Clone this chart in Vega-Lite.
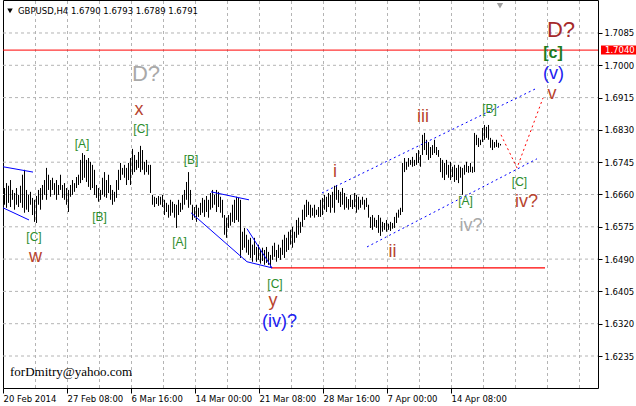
{
"$schema":"https://vega.github.io/schema/vega-lite/v6.json",
"width":595,"height":388,
"autosize":{"type":"none"},
"padding":{"left":3,"right":38,"top":0,"bottom":18},
"background":"white",
"config":{"view":{"stroke":"#000","strokeWidth":1},"font":"DejaVu Sans"},
"datasets":{
"bars":[
{"i":0,"h":1.6677,"l":1.6633},{"i":1,"h":1.6690,"l":1.6625},{"i":2,"h":1.6683,"l":1.6638},{"i":3,"h":1.6698,"l":1.6627},{"i":4,"h":1.6672,"l":1.6646},{"i":5,"h":1.6664,"l":1.6620},{"i":6,"h":1.6677,"l":1.6633},{"i":7,"h":1.6659,"l":1.6627},{"i":8,"h":1.6683,"l":1.6638},{"i":9,"h":1.6712,"l":1.6625},
{"i":10,"h":1.6725,"l":1.6612},{"i":11,"h":1.6672,"l":1.6620},{"i":12,"h":1.6659,"l":1.6614},{"i":13,"h":1.6667,"l":1.6633},{"i":14,"h":1.6651,"l":1.6606},{"i":15,"h":1.6646,"l":1.6588},{"i":16,"h":1.6656,"l":1.6585},{"i":17,"h":1.6672,"l":1.6633},{"i":18,"h":1.6677,"l":1.6620},{"i":19,"h":1.6685,"l":1.6646},
{"i":20,"h":1.6698,"l":1.6659},{"i":21,"h":1.6730,"l":1.6646},{"i":22,"h":1.6712,"l":1.6672},{"i":23,"h":1.6698,"l":1.6654},{"i":24,"h":1.6704,"l":1.6672},{"i":25,"h":1.6690,"l":1.6659},{"i":26,"h":1.6698,"l":1.6646},{"i":27,"h":1.6685,"l":1.6659},{"i":28,"h":1.6712,"l":1.6672},{"i":29,"h":1.6685,"l":1.6651},
{"i":30,"h":1.6690,"l":1.6646},{"i":31,"h":1.6677,"l":1.6633},{"i":32,"h":1.6672,"l":1.6614},{"i":33,"h":1.6685,"l":1.6654},{"i":34,"h":1.6698,"l":1.6659},{"i":35,"h":1.6690,"l":1.6667},{"i":36,"h":1.6706,"l":1.6677},{"i":37,"h":1.6712,"l":1.6685},{"i":38,"h":1.6751,"l":1.6690},{"i":39,"h":1.6769,"l":1.6698},
{"i":40,"h":1.6764,"l":1.6704},{"i":41,"h":1.6751,"l":1.6693},{"i":42,"h":1.6756,"l":1.6680},{"i":43,"h":1.6746,"l":1.6672},{"i":44,"h":1.6738,"l":1.6677},{"i":45,"h":1.6725,"l":1.6659},{"i":46,"h":1.6685,"l":1.6651},{"i":47,"h":1.6677,"l":1.6641},{"i":48,"h":1.6672,"l":1.6646},{"i":49,"h":1.6704,"l":1.6659},
{"i":50,"h":1.6719,"l":1.6654},{"i":51,"h":1.6698,"l":1.6651},{"i":52,"h":1.6712,"l":1.6664},{"i":53,"h":1.6685,"l":1.6646},{"i":54,"h":1.6672,"l":1.6633},{"i":55,"h":1.6667,"l":1.6641},{"i":56,"h":1.6698,"l":1.6651},{"i":57,"h":1.6725,"l":1.6672},{"i":58,"h":1.6743,"l":1.6698},{"i":59,"h":1.6730,"l":1.6712},
{"i":60,"h":1.6738,"l":1.6704},{"i":61,"h":1.6730,"l":1.6685},{"i":62,"h":1.6743,"l":1.6698},{"i":63,"h":1.6756,"l":1.6685},{"i":64,"h":1.6780,"l":1.6712},{"i":65,"h":1.6764,"l":1.6719},{"i":66,"h":1.6751,"l":1.6725},{"i":67,"h":1.6772,"l":1.6730},{"i":68,"h":1.6788,"l":1.6719},{"i":69,"h":1.6777,"l":1.6725},
{"i":70,"h":1.6746,"l":1.6712},{"i":71,"h":1.6751,"l":1.6719},{"i":72,"h":1.6738,"l":1.6712},{"i":73,"h":1.6738,"l":1.6664},{"i":74,"h":1.6659,"l":1.6633},{"i":75,"h":1.6654,"l":1.6627},{"i":76,"h":1.6651,"l":1.6635},{"i":77,"h":1.6656,"l":1.6630},{"i":78,"h":1.6654,"l":1.6633},{"i":79,"h":1.6659,"l":1.6627},
{"i":80,"h":1.6646,"l":1.6606},{"i":81,"h":1.6638,"l":1.6614},{"i":82,"h":1.6633,"l":1.6599},{"i":83,"h":1.6646,"l":1.6604},{"i":84,"h":1.6641,"l":1.6612},{"i":85,"h":1.6635,"l":1.6599},{"i":86,"h":1.6633,"l":1.6572},{"i":87,"h":1.6646,"l":1.6606},{"i":88,"h":1.6638,"l":1.6614},{"i":89,"h":1.6659,"l":1.6620},
{"i":90,"h":1.6672,"l":1.6633},{"i":91,"h":1.6693,"l":1.6646},{"i":92,"h":1.6719,"l":1.6625},{"i":93,"h":1.6672,"l":1.6633},{"i":94,"h":1.6633,"l":1.6593},{"i":95,"h":1.6627,"l":1.6599},{"i":96,"h":1.6633,"l":1.6588},{"i":97,"h":1.6625,"l":1.6601},{"i":98,"h":1.6638,"l":1.6606},{"i":99,"h":1.6651,"l":1.6612},
{"i":100,"h":1.6646,"l":1.6601},{"i":101,"h":1.6656,"l":1.6614},{"i":102,"h":1.6646,"l":1.6599},{"i":103,"h":1.6664,"l":1.6620},{"i":104,"h":1.6672,"l":1.6625},{"i":105,"h":1.6659,"l":1.6633},{"i":106,"h":1.6672,"l":1.6614},{"i":107,"h":1.6667,"l":1.6627},{"i":108,"h":1.6654,"l":1.6612},{"i":109,"h":1.6646,"l":1.6599},
{"i":110,"h":1.6606,"l":1.6554},{"i":111,"h":1.6599,"l":1.6546},{"i":112,"h":1.6606,"l":1.6572},{"i":113,"h":1.6612,"l":1.6578},{"i":114,"h":1.6633,"l":1.6588},{"i":115,"h":1.6646,"l":1.6585},{"i":116,"h":1.6654,"l":1.6593},{"i":117,"h":1.6651,"l":1.6588},{"i":118,"h":1.6646,"l":1.6493},{"i":119,"h":1.6562,"l":1.6514},
{"i":120,"h":1.6572,"l":1.6520},{"i":121,"h":1.6554,"l":1.6507},{"i":122,"h":1.6541,"l":1.6501},{"i":123,"h":1.6546,"l":1.6493},{"i":124,"h":1.6528,"l":1.6483},{"i":125,"h":1.6546,"l":1.6501},{"i":126,"h":1.6522,"l":1.6483},{"i":127,"h":1.6528,"l":1.6488},{"i":128,"h":1.6514,"l":1.6478},{"i":129,"h":1.6520,"l":1.6485},
{"i":130,"h":1.6514,"l":1.6475},{"i":131,"h":1.6522,"l":1.6480},{"i":132,"h":1.6509,"l":1.6475},{"i":133,"h":1.6501,"l":1.6470},{"i":134,"h":1.6525,"l":1.6488},{"i":135,"h":1.6533,"l":1.6496},{"i":136,"h":1.6514,"l":1.6483},{"i":137,"h":1.6528,"l":1.6493},{"i":138,"h":1.6520,"l":1.6488},{"i":139,"h":1.6541,"l":1.6501},
{"i":140,"h":1.6554,"l":1.6493},{"i":141,"h":1.6546,"l":1.6509},{"i":142,"h":1.6562,"l":1.6514},{"i":143,"h":1.6567,"l":1.6528},{"i":144,"h":1.6575,"l":1.6520},{"i":145,"h":1.6562,"l":1.6533},{"i":146,"h":1.6593,"l":1.6546},{"i":147,"h":1.6599,"l":1.6554},{"i":148,"h":1.6588,"l":1.6559},{"i":149,"h":1.6620,"l":1.6575},
{"i":150,"h":1.6633,"l":1.6593},{"i":151,"h":1.6646,"l":1.6601},{"i":152,"h":1.6641,"l":1.6606},{"i":153,"h":1.6633,"l":1.6599},{"i":154,"h":1.6625,"l":1.6604},{"i":155,"h":1.6633,"l":1.6599},{"i":156,"h":1.6620,"l":1.6606},{"i":157,"h":1.6627,"l":1.6601},{"i":158,"h":1.6646,"l":1.6601},{"i":159,"h":1.6651,"l":1.6606},
{"i":160,"h":1.6659,"l":1.6620},{"i":161,"h":1.6654,"l":1.6614},{"i":162,"h":1.6664,"l":1.6627},{"i":163,"h":1.6659,"l":1.6612},{"i":164,"h":1.6667,"l":1.6625},{"i":165,"h":1.6683,"l":1.6612},{"i":166,"h":1.6685,"l":1.6646},{"i":167,"h":1.6672,"l":1.6638},{"i":168,"h":1.6667,"l":1.6627},{"i":169,"h":1.6677,"l":1.6633},
{"i":170,"h":1.6664,"l":1.6620},{"i":171,"h":1.6654,"l":1.6625},{"i":172,"h":1.6648,"l":1.6620},{"i":173,"h":1.6659,"l":1.6627},{"i":174,"h":1.6646,"l":1.6622},{"i":175,"h":1.6664,"l":1.6627},{"i":176,"h":1.6659,"l":1.6612},{"i":177,"h":1.6654,"l":1.6620},{"i":178,"h":1.6646,"l":1.6625},{"i":179,"h":1.6654,"l":1.6633},
{"i":180,"h":1.6646,"l":1.6620},{"i":181,"h":1.6651,"l":1.6627},{"i":182,"h":1.6633,"l":1.6599},{"i":183,"h":1.6601,"l":1.6572},{"i":184,"h":1.6606,"l":1.6567},{"i":185,"h":1.6599,"l":1.6575},{"i":186,"h":1.6593,"l":1.6572},{"i":187,"h":1.6606,"l":1.6559},{"i":188,"h":1.6599,"l":1.6551},{"i":189,"h":1.6588,"l":1.6562},
{"i":190,"h":1.6585,"l":1.6567},{"i":191,"h":1.6593,"l":1.6562},{"i":192,"h":1.6583,"l":1.6567},{"i":193,"h":1.6588,"l":1.6564},{"i":194,"h":1.6585,"l":1.6570},{"i":195,"h":1.6601,"l":1.6572},{"i":196,"h":1.6612,"l":1.6585},{"i":197,"h":1.6620,"l":1.6599},{"i":198,"h":1.6625,"l":1.6606},{"i":199,"h":1.6743,"l":1.6614},
{"i":200,"h":1.6756,"l":1.6719},{"i":201,"h":1.6746,"l":1.6725},{"i":202,"h":1.6756,"l":1.6733},{"i":203,"h":1.6751,"l":1.6738},{"i":204,"h":1.6759,"l":1.6733},{"i":205,"h":1.6751,"l":1.6735},{"i":206,"h":1.6769,"l":1.6738},{"i":207,"h":1.6777,"l":1.6743},{"i":208,"h":1.6764,"l":1.6733},{"i":209,"h":1.6817,"l":1.6764},
{"i":210,"h":1.6822,"l":1.6777},{"i":211,"h":1.6804,"l":1.6764},{"i":212,"h":1.6798,"l":1.6751},{"i":213,"h":1.6785,"l":1.6756},{"i":214,"h":1.6790,"l":1.6764},{"i":215,"h":1.6804,"l":1.6769},{"i":216,"h":1.6785,"l":1.6764},{"i":217,"h":1.6777,"l":1.6759},{"i":218,"h":1.6756,"l":1.6719},{"i":219,"h":1.6751,"l":1.6704},
{"i":220,"h":1.6743,"l":1.6698},{"i":221,"h":1.6751,"l":1.6712},{"i":222,"h":1.6738,"l":1.6704},{"i":223,"h":1.6746,"l":1.6698},{"i":224,"h":1.6733,"l":1.6706},{"i":225,"h":1.6738,"l":1.6693},{"i":226,"h":1.6730,"l":1.6698},{"i":227,"h":1.6738,"l":1.6690},{"i":228,"h":1.6733,"l":1.6704},{"i":229,"h":1.6730,"l":1.6659},
{"i":230,"h":1.6738,"l":1.6712},{"i":231,"h":1.6746,"l":1.6719},{"i":232,"h":1.6735,"l":1.6717},{"i":233,"h":1.6743,"l":1.6719},{"i":234,"h":1.6733,"l":1.6717},{"i":235,"h":1.6822,"l":1.6719},{"i":236,"h":1.6817,"l":1.6790},{"i":237,"h":1.6809,"l":1.6785},{"i":238,"h":1.6804,"l":1.6790},{"i":239,"h":1.6835,"l":1.6798},
{"i":240,"h":1.6843,"l":1.6804},{"i":241,"h":1.6838,"l":1.6809},{"i":242,"h":1.6843,"l":1.6804},{"i":243,"h":1.6809,"l":1.6783},{"i":244,"h":1.6804,"l":1.6777},{"i":245,"h":1.6798,"l":1.6783},{"i":246,"h":1.6804,"l":1.6785},{"i":247,"h":1.6796,"l":1.6783},{"i":248,"h":1.6793,"l":1.6789}
],
"labels":[
{"t":"D?","i":71,"p":1.6978,"k":"grayD"},
{"t":"x","i":67.5,"p":1.6869,"k":"red"},
{"t":"[C]","i":68.5,"p":1.6833,"k":"green"},
{"t":"[A]","i":39,"p":1.6793,"k":"green"},
{"t":"[B]","i":93.5,"p":1.6750,"k":"green"},
{"t":"[B]","i":47.75,"p":1.6602,"k":"green"},
{"t":"[C]","i":15,"p":1.6547,"k":"green"},
{"t":"w","i":15.75,"p":1.6483,"k":"red"},
{"t":"[A]","i":87.75,"p":1.6535,"k":"green"},
{"t":"[C]","i":135.5,"p":1.6425,"k":"green"},
{"t":"y","i":134.5,"p":1.6367,"k":"red"},
{"t":"(iv)?","i":137.75,"p":1.6325,"k":"blue"},
{"t":"i","i":165.5,"p":1.6706,"k":"red"},
{"t":"ii","i":194.25,"p":1.6496,"k":"red"},
{"t":"iii","i":209.5,"p":1.6851,"k":"red"},
{"t":"[A]","i":230.75,"p":1.6643,"k":"green"},
{"t":"iv?","i":233.5,"p":1.6564,"k":"grayS"},
{"t":"[B]","i":242.75,"p":1.6885,"k":"green"},
{"t":"[C]","i":257.75,"p":1.6693,"k":"green"},
{"t":"iv?","i":261.25,"p":1.6627,"k":"red"},
{"t":"v","i":274,"p":1.6911,"k":"red"},
{"t":"(v)","i":274.75,"p":1.6977,"k":"blue"},
{"t":"[c]","i":274.5,"p":1.7032,"k":"greenBold"},
{"t":"D?","i":278.5,"p":1.7093,"k":"redD"}
],
"bl":[
{"g":1,"i":-0.5,"p":1.6733},{"g":1,"i":14.5,"p":1.6719},
{"g":2,"i":-0.5,"p":1.6625},{"g":2,"i":12.5,"p":1.6593},
{"g":3,"i":103.5,"p":1.6667},{"g":3,"i":122.5,"p":1.6646},
{"g":4,"i":93.5,"p":1.6612},{"g":4,"i":121.5,"p":1.6483},{"g":4,"i":134,"p":1.6467},
{"g":5,"i":121.5,"p":1.6570},{"g":5,"i":134,"p":1.6467}
],
"bd":[
{"g":1,"i":159,"p":1.6664},{"g":1,"i":266.5,"p":1.6940},
{"g":2,"i":181.5,"p":1.6522},{"g":2,"i":266.5,"p":1.6754}
],
"rd":[{"i":248.5,"p":1.6817},{"i":256.5,"p":1.6730},{"i":269.5,"p":1.6914}],
"rs":[{"i":133.5,"p":1.6467},{"i":270.5,"p":1.6467}],
"grid":[
{"g":"v1","i":15.75,"p":1.615079},{"g":"v1","i":15.75,"p":1.717184},
{"g":"v2","i":31.75,"p":1.615079},{"g":"v2","i":31.75,"p":1.717184},
{"g":"v3","i":47.75,"p":1.615079},{"g":"v3","i":47.75,"p":1.717184},
{"g":"v4","i":63.75,"p":1.615079},{"g":"v4","i":63.75,"p":1.717184},
{"g":"v5","i":79.75,"p":1.615079},{"g":"v5","i":79.75,"p":1.717184},
{"g":"v6","i":95.75,"p":1.615079},{"g":"v6","i":95.75,"p":1.717184},
{"g":"v7","i":111.75,"p":1.615079},{"g":"v7","i":111.75,"p":1.717184},
{"g":"v8","i":127.75,"p":1.615079},{"g":"v8","i":127.75,"p":1.717184},
{"g":"v9","i":143.75,"p":1.615079},{"g":"v9","i":143.75,"p":1.717184},
{"g":"v10","i":159.75,"p":1.615079},{"g":"v10","i":159.75,"p":1.717184},
{"g":"v11","i":175.75,"p":1.615079},{"g":"v11","i":175.75,"p":1.717184},
{"g":"v12","i":191.75,"p":1.615079},{"g":"v12","i":191.75,"p":1.717184},
{"g":"v13","i":207.75,"p":1.615079},{"g":"v13","i":207.75,"p":1.717184},
{"g":"v14","i":223.75,"p":1.615079},{"g":"v14","i":223.75,"p":1.717184},
{"g":"v15","i":239.75,"p":1.615079},{"g":"v15","i":239.75,"p":1.717184},
{"g":"v16","i":255.75,"p":1.615079},{"g":"v16","i":255.75,"p":1.717184},
{"g":"v17","i":271.75,"p":1.615079},{"g":"v17","i":271.75,"p":1.717184},
{"g":"v18","i":287.75,"p":1.615079},{"g":"v18","i":287.75,"p":1.717184},
{"g":"h1","i":-0.5,"p":1.6235},{"g":"h1","i":297,"p":1.6235},
{"g":"h2","i":-0.5,"p":1.632},{"g":"h2","i":297,"p":1.632},
{"g":"h3","i":-0.5,"p":1.6405},{"g":"h3","i":297,"p":1.6405},
{"g":"h4","i":-0.5,"p":1.649},{"g":"h4","i":297,"p":1.649},
{"g":"h5","i":-0.5,"p":1.6575},{"g":"h5","i":297,"p":1.6575},
{"g":"h6","i":-0.5,"p":1.666},{"g":"h6","i":297,"p":1.666},
{"g":"h7","i":-0.5,"p":1.6745},{"g":"h7","i":297,"p":1.6745},
{"g":"h8","i":-0.5,"p":1.683},{"g":"h8","i":297,"p":1.683},
{"g":"h9","i":-0.5,"p":1.6915},{"g":"h9","i":297,"p":1.6915},
{"g":"h10","i":-0.5,"p":1.7},{"g":"h10","i":297,"p":1.7},
{"g":"h11","i":-0.5,"p":1.7085},{"g":"h11","i":297,"p":1.7085}
],
"ax":[{"i":-0.5,"p":1.6235}]
},
"resolve":{"axis":{"x":"independent","y":"independent"}},
"layer":[
{"data":{"name":"ax"},
"mark":{"type":"point","opacity":0},
"encoding":{
"x":{"field":"i","type":"quantitative","scale":{"domain":[-0.5,297],"nice":false,"zero":false},
"axis":{"orient":"bottom","title":null,"domain":false,"grid":false,
"values":[-0.5,31.5,63.5,95.5,127.5,159.5,191.5,223.5],
"labelExpr":"['20 Feb 2014','27 Feb 08:00','6 Mar 16:00','14 Mar 00:00','21 Mar 08:00','28 Mar 16:00','7 Apr 00:00','14 Apr 08:00'][round((datum.value+0.5)/32)]",
"tickColor":"#000","tickSize":5,
"labelAlign":"left","labelBaseline":"top","labelPadding":1,"labelFont":"DejaVu Sans","labelFontSize":8.5,"labelColor":"#000",
"labelOverlap":false}},
"y":{"field":"p","type":"quantitative","scale":{"domain":[1.615079,1.717184],"nice":false,"zero":false},
"axis":{"orient":"right","title":null,"domain":false,"grid":false,
"values":[1.6235,1.632,1.6405,1.649,1.6575,1.666,1.6745,1.683,1.6915,1.7,1.7085],"format":".4f",
"tickColor":"#000","tickSize":4,"labelPadding":2,"labelFont":"DejaVu Sans","labelFontSize":8.5,"labelColor":"#000",
"labelOverlap":false}}
}},
{"data":{"name":"grid"},"mark":{"type":"line","color":"#b4b4b4","strokeWidth":1,"strokeDash":[3,3]},
"encoding":{"x":{"field":"i","type":"quantitative","axis":null,"scale":{"domain":[-0.5,297],"nice":false,"zero":false}},"y":{"field":"p","type":"quantitative","axis":null,"scale":{"domain":[1.615079,1.717184],"nice":false,"zero":false}},"detail":{"field":"g"}}},
{"data":{"name":"bars"},
"mark":{"type":"rule","color":"#000","strokeWidth":1,"xOffset":0.5},
"encoding":{
"x":{"field":"i","type":"quantitative","axis":null,"scale":{"domain":[-0.5,297],"nice":false,"zero":false}},
"y":{"field":"l","type":"quantitative","axis":null,"scale":{"domain":[1.615079,1.717184],"nice":false,"zero":false}},
"y2":{"field":"h"}
}},
{"data":{"values":[{"p":1.704}]},"mark":{"type":"rule","color":"#ff0000","strokeWidth":1},
"encoding":{"y":{"field":"p","type":"quantitative","axis":null,"scale":{"domain":[1.615079,1.717184],"nice":false,"zero":false}}}},
{"data":{"name":"rs"},"mark":{"type":"line","color":"#ff0000","strokeWidth":1.3},
"encoding":{"x":{"field":"i","type":"quantitative","axis":null,"scale":{"domain":[-0.5,297],"nice":false,"zero":false}},"y":{"field":"p","type":"quantitative","axis":null,"scale":{"domain":[1.615079,1.717184],"nice":false,"zero":false}}}},
{"data":{"name":"bl"},"mark":{"type":"line","color":"#0000ff","strokeWidth":1},
"encoding":{"x":{"field":"i","type":"quantitative","axis":null,"scale":{"domain":[-0.5,297],"nice":false,"zero":false}},"y":{"field":"p","type":"quantitative","axis":null,"scale":{"domain":[1.615079,1.717184],"nice":false,"zero":false}},"detail":{"field":"g"}}},
{"data":{"name":"bd"},"mark":{"type":"line","color":"#0000ff","strokeWidth":1,"strokeDash":[2,3]},
"encoding":{"x":{"field":"i","type":"quantitative","axis":null,"scale":{"domain":[-0.5,297],"nice":false,"zero":false}},"y":{"field":"p","type":"quantitative","axis":null,"scale":{"domain":[1.615079,1.717184],"nice":false,"zero":false}},"detail":{"field":"g"}}},
{"data":{"name":"rd"},"mark":{"type":"line","color":"#ff0000","strokeWidth":1,"strokeDash":[2,3]},
"encoding":{"x":{"field":"i","type":"quantitative","axis":null,"scale":{"domain":[-0.5,297],"nice":false,"zero":false}},"y":{"field":"p","type":"quantitative","axis":null,"scale":{"domain":[1.615079,1.717184],"nice":false,"zero":false}}}},
{"data":{"name":"labels"},"transform":[{"filter":"datum.k=='green'"}],"mark":{"type":"text","font":"Liberation Sans","fontSize":12,"color":"#2b8c2b","align":"center","baseline":"middle"},
"encoding":{"x":{"field":"i","type":"quantitative","axis":null,"scale":{"domain":[-0.5,297],"nice":false,"zero":false}},"y":{"field":"p","type":"quantitative","axis":null,"scale":{"domain":[1.615079,1.717184],"nice":false,"zero":false}},"text":{"field":"t"}}},
{"data":{"name":"labels"},"transform":[{"filter":"datum.k=='greenBold'"}],"mark":{"type":"text","font":"Liberation Sans","fontSize":16,"fontWeight":"bold","color":"#1e7b1e","align":"center","baseline":"middle"},
"encoding":{"x":{"field":"i","type":"quantitative","axis":null,"scale":{"domain":[-0.5,297],"nice":false,"zero":false}},"y":{"field":"p","type":"quantitative","axis":null,"scale":{"domain":[1.615079,1.717184],"nice":false,"zero":false}},"text":{"field":"t"}}},
{"data":{"name":"labels"},"transform":[{"filter":"datum.k=='red'"}],"mark":{"type":"text","font":"Liberation Sans","fontSize":18,"color":"#b8432e","align":"center","baseline":"alphabetic"},
"encoding":{"x":{"field":"i","type":"quantitative","axis":null,"scale":{"domain":[-0.5,297],"nice":false,"zero":false}},"y":{"field":"p","type":"quantitative","axis":null,"scale":{"domain":[1.615079,1.717184],"nice":false,"zero":false}},"text":{"field":"t"}}},
{"data":{"name":"labels"},"transform":[{"filter":"datum.k=='redD'"}],"mark":{"type":"text","font":"Liberation Sans","fontSize":22,"color":"#a52a2a","align":"center","baseline":"middle"},
"encoding":{"x":{"field":"i","type":"quantitative","axis":null,"scale":{"domain":[-0.5,297],"nice":false,"zero":false}},"y":{"field":"p","type":"quantitative","axis":null,"scale":{"domain":[1.615079,1.717184],"nice":false,"zero":false}},"text":{"field":"t"}}},
{"data":{"name":"labels"},"transform":[{"filter":"datum.k=='grayD'"}],"mark":{"type":"text","font":"Liberation Sans","fontSize":22,"color":"#a9a9a9","align":"center","baseline":"middle"},
"encoding":{"x":{"field":"i","type":"quantitative","axis":null,"scale":{"domain":[-0.5,297],"nice":false,"zero":false}},"y":{"field":"p","type":"quantitative","axis":null,"scale":{"domain":[1.615079,1.717184],"nice":false,"zero":false}},"text":{"field":"t"}}},
{"data":{"name":"labels"},"transform":[{"filter":"datum.k=='grayS'"}],"mark":{"type":"text","font":"Liberation Sans","fontSize":18,"color":"#a9a9a9","align":"center","baseline":"alphabetic"},
"encoding":{"x":{"field":"i","type":"quantitative","axis":null,"scale":{"domain":[-0.5,297],"nice":false,"zero":false}},"y":{"field":"p","type":"quantitative","axis":null,"scale":{"domain":[1.615079,1.717184],"nice":false,"zero":false}},"text":{"field":"t"}}},
{"data":{"name":"labels"},"transform":[{"filter":"datum.k=='blue'"}],"mark":{"type":"text","font":"Liberation Sans","fontSize":18,"color":"#2020f0","align":"center","baseline":"middle"},
"encoding":{"x":{"field":"i","type":"quantitative","axis":null,"scale":{"domain":[-0.5,297],"nice":false,"zero":false}},"y":{"field":"p","type":"quantitative","axis":null,"scale":{"domain":[1.615079,1.717184],"nice":false,"zero":false}},"text":{"field":"t"}}},
{"data":{"values":[{"i":7,"p":1.7135,"t":"GBPUSD,H4  1.6790 1.6793 1.6789 1.6791"}]},"mark":{"type":"text","font":"DejaVu Sans","fontSize":8.5,"color":"#000","align":"left","baseline":"alphabetic"},
"encoding":{"x":{"field":"i","type":"quantitative","axis":null,"scale":{"domain":[-0.5,297],"nice":false,"zero":false}},"y":{"field":"p","type":"quantitative","axis":null,"scale":{"domain":[1.615079,1.717184],"nice":false,"zero":false}},"text":{"field":"t"}}},
{"data":{"values":[{"i":3,"p":1.6182,"t":"forDmitry@yahoo.com"}]},"mark":{"type":"text","font":"Liberation Serif","fontSize":13,"color":"#000","align":"left","baseline":"alphabetic"},
"encoding":{"x":{"field":"i","type":"quantitative","axis":null,"scale":{"domain":[-0.5,297],"nice":false,"zero":false}},"y":{"field":"p","type":"quantitative","axis":null,"scale":{"domain":[1.615079,1.717184],"nice":false,"zero":false}},"text":{"field":"t"}}},
{"data":{"values":[{"i":3,"p":1.7143}]},"mark":{"type":"point","shape":"triangle-down","filled":true,"color":"#000","size":30,"opacity":1},
"encoding":{"x":{"field":"i","type":"quantitative","axis":null,"scale":{"domain":[-0.5,297],"nice":false,"zero":false}},"y":{"field":"p","type":"quantitative","axis":null,"scale":{"domain":[1.615079,1.717184],"nice":false,"zero":false}}}},
{"data":{"values":[{"i":248,"p":1.7157}]},"mark":{"type":"point","shape":"triangle-down","filled":true,"color":"#a0a0a0","size":40,"opacity":1},
"encoding":{"x":{"field":"i","type":"quantitative","axis":null,"scale":{"domain":[-0.5,297],"nice":false,"zero":false}},"y":{"field":"p","type":"quantitative","axis":null,"scale":{"domain":[1.615079,1.717184],"nice":false,"zero":false}}}},
{"data":{"values":[{"i":298.5,"i2":316,"p":1.704}]},"mark":{"type":"rule","color":"#ff0000","strokeWidth":9,"strokeCap":"butt"},
"encoding":{"x":{"field":"i","type":"quantitative","axis":null,"scale":{"domain":[-0.5,297],"nice":false,"zero":false}},"x2":{"field":"i2"},"y":{"field":"p","type":"quantitative","axis":null,"scale":{"domain":[1.615079,1.717184],"nice":false,"zero":false}}}},
{"data":{"values":[{"i":300.5,"p":1.704,"t":"1.7040"}]},"mark":{"type":"text","font":"DejaVu Sans","fontSize":8.5,"color":"#ffffff","align":"left","baseline":"middle"},
"encoding":{"x":{"field":"i","type":"quantitative","axis":null,"scale":{"domain":[-0.5,297],"nice":false,"zero":false}},"y":{"field":"p","type":"quantitative","axis":null,"scale":{"domain":[1.615079,1.717184],"nice":false,"zero":false}},"text":{"field":"t"}}}
]
}
